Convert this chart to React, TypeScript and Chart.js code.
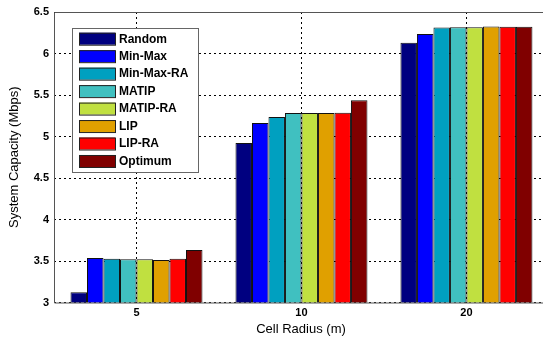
import React, { useEffect, useRef } from "react";
import { Chart, registerables } from "chart.js";

Chart.register(...registerables);

const categories = ["5", "10", "20"];
const seriesNames = ["Random", "Min-Max", "Min-Max-RA", "MATIP", "MATIP-RA", "LIP", "LIP-RA", "Optimum"];
const seriesColors = ["#000080", "#0000FF", "#00A0C0", "#40C0C0", "#C0E040", "#E0A000", "#FF0000", "#800000"];
const random = [3.125, 4.922, 6.13];
const minMax = [3.536, 5.163, 6.235];
const minMaxRA = [3.528, 5.236, 6.314];
const matip = [3.521, 5.284, 6.315];
const matipRA = [3.52, 5.284, 6.316];
const lip = [3.512, 5.284, 6.326];
const lipRA = [3.527, 5.285, 6.323];
const optimum = [3.633, 5.436, 6.323];
const seriesValues = [random, minMax, minMaxRA, matip, matipRA, lip, lipRA, optimum];
const yTicks = [3, 3.5, 4, 4.5, 5, 5.5, 6, 6.5];

const FONT = 'Arial, "Liberation Sans", sans-serif';

const decorPlugin = {
  id: "decor",
  afterDraw(chart: any) {
    const ctx = chart.ctx;
    const a = chart.chartArea;
    ctx.save();
    ctx.strokeStyle = "#555";
    ctx.lineWidth = 1;
    ctx.beginPath();
    ctx.moveTo(a.left + 0.5, a.bottom + 0.5);
    ctx.lineTo(a.left + 0.5, a.top + 0.5);
    ctx.lineTo(a.right, a.top + 0.5);
    ctx.moveTo(a.left + 0.5, a.bottom + 0.5);
    ctx.lineTo(a.right, a.bottom + 0.5);
    ctx.stroke();
    ctx.fillStyle = "#000";
    ctx.font = "13px " + FONT;
    ctx.textAlign = "center";
    ctx.textBaseline = "middle";
    ctx.fillText("Cell Radius (m)", 301, 329);
    ctx.save();
    ctx.translate(14, (a.top + a.bottom) / 2);
    ctx.rotate(-Math.PI / 2);
    ctx.fillText("System Capacity (Mbps)", 0, 0);
    ctx.restore();
    const lx = 72, ly = 28, lw = 126, lh = 144;
    ctx.fillStyle = "#fff";
    ctx.fillRect(lx, ly, lw, lh);
    ctx.strokeStyle = "#666";
    ctx.strokeRect(lx + 0.5, ly + 0.5, lw, lh);
    ctx.font = "bold 12px " + FONT;
    ctx.textAlign = "left";
    chart.data.datasets.forEach((ds: any, i: number) => {
      const top = 32.7 + i * 17.47;
      ctx.fillStyle = ds.backgroundColor;
      ctx.fillRect(79, top, 36, 12);
      ctx.strokeStyle = "#222";
      ctx.strokeRect(79.5, top + 0.5, 36, 12);
      ctx.fillStyle = "#000";
      ctx.fillText(ds.label, 119, top + 6.5);
    });
    ctx.restore();
  },
};

export default function App() {
  const ref = useRef<HTMLCanvasElement>(null);
  useEffect(() => {
    if (!ref.current) return;
    const chart = new Chart(ref.current, {
      type: "bar",
      data: {
        datasets: seriesNames.map((name, s) => ({
          label: name,
          data: categories.map((_, i) => ({ x: i + 1, y: seriesValues[s][i] })),
          backgroundColor: seriesColors[s],
          borderColor: "#111",
          borderWidth: 1,
          borderSkipped: "bottom",
          categoryPercentage: 0.8,
          barPercentage: 1.0,
        })),
      },
      options: {
        animation: false,
        responsive: false,
        maintainAspectRatio: false,
        layout: { padding: { top: 12, right: 0, bottom: 0, left: 0 } },
        plugins: { legend: { display: false }, tooltip: { enabled: false } },
        scales: {
          x: {
            type: "linear",
            offset: false,
            min: 0.5,
            max: 3.464,
            afterBuildTicks: (scale: any) => {
              scale.ticks = categories.map((_, i) => ({ value: i + 1 }));
            },
            afterFit: (scale: any) => {
              scale.height = 36.5;
            },
            ticks: {
              callback: (v: any) => categories[Number(v) - 1] ?? "",
              font: { family: FONT, size: 11, weight: "bold" },
              color: "#000",
              padding: 4,
              maxRotation: 0,
              autoSkip: false,
            },
            grid: {
              offset: false,
              color: "#000",
              lineWidth: 1,
              tickLength: 0,
              drawTicks: false,
            },
            border: { display: false, dash: [2, 3] },
          },
          y: {
            min: 3,
            max: 6.5,
            afterBuildTicks: (scale: any) => {
              scale.ticks = yTicks.map((v) => ({ value: v }));
            },
            afterFit: (scale: any) => {
              scale.width = 54;
            },
            ticks: {
              callback: (v: any) => String(Number(v)),
              font: { family: FONT, size: 11, weight: "bold" },
              color: "#000",
              padding: 5,
            },
            grid: {
              color: "#000",
              lineWidth: 1,
              drawTicks: false,
              tickLength: 0,
            },
            border: { display: false, dash: [2, 3] },
          },
        },
      },
      plugins: [decorPlugin],
    } as any);
    return () => chart.destroy();
  }, []);
  return (
    <div style={{ position: "absolute", left: 0, top: 0, width: 543, height: 339, background: "#fff" }}>
      <canvas ref={ref} width={543} height={339} style={{ display: "block" }} />
    </div>
  );
}
